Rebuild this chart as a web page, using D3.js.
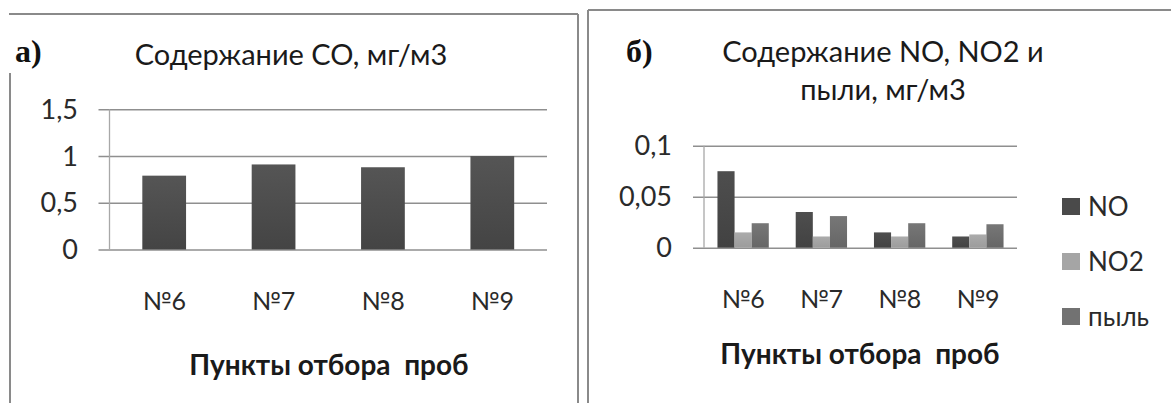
<!DOCTYPE html>
<html><head><meta charset="utf-8">
<script src="https://cdn.jsdelivr.net/npm/d3@7"></script>
<style>
html,body{margin:0;padding:0;background:#fff;}
svg{display:block;}
</style></head>
<body>
<svg id="chart" width="1171" height="403"></svg>
<script>
// ---- data ----
const categories = ["№6", "№7", "№8", "№9"];
const coValues = [0.79, 0.91, 0.88, 1.0];
const coTicks = [0, 0.5, 1, 1.5];
const seriesNames = ["NO", "NO2", "пыль"];
const noValues = [0.075, 0.035, 0.015, 0.011];
const no2Values = [0.015, 0.011, 0.011, 0.013];
const dustValues = [0.024, 0.031, 0.024, 0.023];
const nTicks = [0, 0.05, 0.1];
const titleA = "Содержание CO, мг/м3";
const titleB = ["Содержание NO, NO2 и", "пыли, мг/м3"];
const axisTitle = "Пункты отбора  проб";

const SANS = "Lato, 'Noto Sans', sans-serif";
const SERIF = "'Liberation Serif', 'DejaVu Serif', serif";
const ru = d3.formatLocale({decimal: ",", thousands: " ", grouping: [3], currency: ["", " ₽"]});
const fmt = v => ru.format("~g")(v);

const svg = d3.select("#chart");
const defs = svg.append("defs");
function grad(id, top, bottom) {
  const g = defs.append("linearGradient").attr("id", id).attr("x1", 0).attr("x2", 0).attr("y1", 0).attr("y2", 1);
  g.append("stop").attr("offset", "0%").attr("stop-color", top);
  g.append("stop").attr("offset", "100%").attr("stop-color", bottom);
}
grad("gCO", "#555555", "#444444");
grad("gNO", "#4e4e4e", "#424242");
grad("gNO2", "#ababab", "#9c9c9c");
grad("gDust", "#777777", "#666666");
const seriesFill = ["url(#gNO)", "url(#gNO2)", "url(#gDust)"];
const legendFill = ["#4a4a4a", "#a5a5a5", "#727272"];

const borderColor = "#8a8a8a";
svg.append("line").attr("x1", 9).attr("x2", 578).attr("y1", 14).attr("y2", 14).attr("stroke", borderColor).attr("stroke-width", 2);
svg.append("line").attr("x1", 10).attr("x2", 10).attr("y1", 73).attr("y2", 403).attr("stroke", borderColor).attr("stroke-width", 2);
svg.append("line").attr("x1", 578).attr("x2", 578).attr("y1", 14).attr("y2", 403).attr("stroke", borderColor).attr("stroke-width", 2);
svg.append("line").attr("x1", 588).attr("x2", 1171).attr("y1", 10).attr("y2", 10).attr("stroke", borderColor).attr("stroke-width", 2);
svg.append("line").attr("x1", 588).attr("x2", 588).attr("y1", 10).attr("y2", 403).attr("stroke", borderColor).attr("stroke-width", 2);

function drawAxes(g, x, y, ticks, tickLabelX, xLabelY) {
  const [x0, x1] = x.range();
  const grid = d3.axisLeft(y).tickValues(ticks).tickSize(x1 - x0 + 11).tickFormat("");
  g.append("g").attr("transform", `translate(${x1},0)`).call(grid)
    .call(s => s.select(".domain").remove())
    .call(s => s.selectAll("line").attr("stroke", "#8f8f8f").attr("stroke-width", 1.5));
  g.append("line").attr("x1", x0).attr("x2", x0).attr("y1", y.range()[1]).attr("y2", y.range()[0])
    .attr("stroke", "#a8a8a8").attr("stroke-width", 1.3);
  g.selectAll("text.yl").data(ticks).join("text").attr("class", "yl")
    .attr("x", tickLabelX).attr("y", d => y(d)).attr("dy", "0.36em")
    .attr("text-anchor", "end").style("font-family", SANS).style("font-size", "27px").attr("fill", "#2a2a2a").text(fmt);
  g.selectAll("text.xl").data(categories).join("text").attr("class", "xl")
    .attr("x", d => x(d) + x.bandwidth() / 2).attr("y", xLabelY)
    .attr("text-anchor", "middle").style("font-family", SANS).style("font-size", "25px").attr("fill", "#2a2a2a").text(d => d);
}

// ---- panel a ----
{
  const g = svg.append("g");
  const x = d3.scaleBand().domain(categories).range([109.5, 547]).paddingInner(0.6).paddingOuter(0.3);
  const y = d3.scaleLinear().domain([0, 1.5]).range([249.5, 109.3]);
  drawAxes(g, x.copy().paddingInner(0).paddingOuter(0), y, coTicks, 78, 310);
  g.selectAll("rect.bar").data(coValues).join("rect").attr("class", "bar")
    .attr("x", (d, i) => x(categories[i])).attr("width", x.bandwidth())
    .attr("y", d => y(d)).attr("height", d => y(0) - y(d)).attr("fill", "url(#gCO)");
  g.append("text").attr("x", 15).attr("y", 62).style("font-family", SERIF)
    .style("font-weight", "bold").style("font-size", "32px").attr("fill", "#111").text("а)");
  g.append("text").attr("x", 291).attr("y", 65).attr("text-anchor", "middle")
    .style("font-family", SANS).style("font-size", "29px").attr("fill", "#1a1a1a").text(titleA);
  g.append("text").attr("x", 329).attr("y", 375).attr("text-anchor", "middle").style("white-space", "pre")
    .style("font-family", SANS).style("font-size", "28px").style("font-weight", "bold").attr("fill", "#1a1a1a").text(axisTitle);
}

// ---- panel b ----
{
  const g = svg.append("g");
  const x = d3.scaleBand().domain(categories).range([704, 1017]).paddingInner(0.344).paddingOuter(0.172);
  const xs = d3.scaleBand().domain(seriesNames).range([0, x.bandwidth()]);
  const y = d3.scaleLinear().domain([0, 0.1]).range([247.7, 145.7]);
  drawAxes(g, x.copy().paddingInner(0).paddingOuter(0), y, nTicks, 672, 308);
  const series = [noValues, no2Values, dustValues];
  series.forEach((vals, si) => {
    g.selectAll(`rect.s${si}`).data(vals).join("rect").attr("class", `s${si}`)
      .attr("x", (d, i) => x(categories[i]) + xs(seriesNames[si])).attr("width", xs.bandwidth())
      .attr("y", d => y(d)).attr("height", d => y(0) - y(d)).attr("fill", seriesFill[si]);
  });
  g.append("text").attr("x", 626).attr("y", 62).style("font-family", SERIF)
    .style("font-weight", "bold").style("font-size", "32px").attr("fill", "#111").text("б)");
  g.selectAll("text.tt").data(titleB).join("text").attr("class", "tt")
    .attr("x", 883).attr("y", (d, i) => 62 + i * 38).attr("text-anchor", "middle")
    .style("font-family", SANS).style("font-size", "29px").attr("fill", "#1a1a1a").text(d => d);
  g.append("text").attr("x", 860).attr("y", 364).attr("text-anchor", "middle").style("white-space", "pre")
    .style("font-family", SANS).style("font-size", "28px").style("font-weight", "bold").attr("fill", "#1a1a1a").text(axisTitle);
  const lg = g.selectAll("g.lg").data(seriesNames).join("g").attr("class", "lg")
    .attr("transform", (d, i) => `translate(1062,${198 + i * 55})`);
  lg.append("rect").attr("width", 18).attr("height", 17).attr("fill", (d, i) => legendFill[i]);
  lg.append("text").attr("x", 26).attr("y", 8.5).attr("dy", "0.36em")
    .style("font-family", SANS).style("font-size", "26px").attr("fill", "#2a2a2a").text(d => d);
}
</script>
</body></html>
